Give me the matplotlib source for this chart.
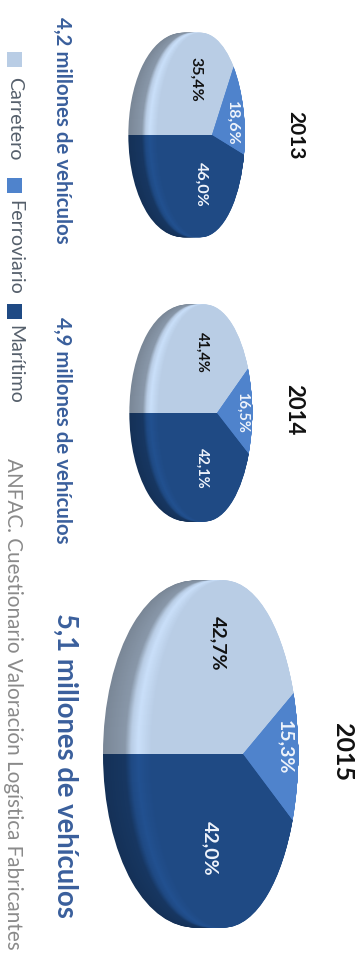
import matplotlib
matplotlib.use("Agg")
import matplotlib.pyplot as plt
import numpy as np

from matplotlib.patches import Rectangle
from matplotlib.transforms import Transform

plt.rcParams["font.family"] = ["Lato", "DejaVu Sans"]

years = ["2013", "2014", "2015"]
carretero = [35.4, 41.4, 42.7]
ferroviario = [18.6, 16.5, 15.3]
maritimo = [46.0, 42.1, 42.0]
totals = ["4,2 millones de vehículos", "4,9 millones de vehículos", "5,1 millones de vehículos"]
modes = ["Carretero", "Ferroviario", "Marítimo"]
source = "ANFAC. Cuestionario Valoración Logística Fabricantes"

colors = ["#b9cde5", "#4f83cc", "#1f4a84"]
label_colors = ["#111111", "#eef3fb", "#eef3fb"]
title_color = "#3a5f9c"

# disc geometry: centre x, centre y, half width, half height, perspective, rim depth
discs = [
	(212, 135, 41, 99, 0.25, 29),
	(217, 413, 44, 105, 0.25, 29),
	(243, 754, 69, 168, 0.25, 48),
]
value_pos = [
	[(196, 79), (232, 123), (201, 184)],
	[(202, 352), (242, 412), (202, 468)],
	[(218, 643), (285, 747), (210, 848)],
]
value_size = [11.5, 10.5, 14]
year_pos = [(295, 135), (294, 410), (342, 752)]
year_size = [15, 16, 18]
total_pos = [(62, 130), (62, 430), (65, 765)]
total_size = [14.7, 14.7, 19.8]


class TiltedDisc(Transform):
	# projects the unit circle of a pie onto a disc leaning away to the right,
	# d stretches the left side out to build the rim
	input_dims = 2
	output_dims = 2

	def __init__(self, cx, cy, a, b, k, d):
		super().__init__()
		self.cx, self.cy, self.a, self.b, self.k, self.d = cx, cy, a, b, k, d

	def transform_non_affine(self, values):
		values = np.asarray(values)
		u = values[:, 0]
		w = 1 + self.k * u
		return np.column_stack([
			self.cx + self.a * u / w - self.d * (1 - u) / 2,
			self.cy - self.b * values[:, 1] / w,
		])


def shaded(color, f):
	rgb = np.array(matplotlib.colors.to_rgb(color))
	return tuple(np.clip(rgb * f, 0, 1))


fig = plt.figure(figsize=(3.62, 9.56), dpi=100)
ax = fig.add_axes([0, 0, 1, 1])

for i, year in enumerate(years):
	values = [carretero[i], ferroviario[i], maritimo[i]]
	cx, cy, a, b, k, depth = discs[i]

	# rim first, stacked from the back edge up to the face
	for d in np.arange(depth, -1, -1):
		t = 1 - d / depth
		f = np.interp(t, [0, 0.45, 0.58, 0.72, 1], [0.66, 0.74, 1.0, 1.09, 1.0])
		wedges, _ = ax.pie(
			values,
			colors=[shaded(c, f) for c in colors],
			startangle=180,
			counterclock=False,
		)
		for w in wedges:
			w.set_transform(TiltedDisc(cx, cy, a, b, k, d) + ax.transData)

	for (x, y), v, c in zip(value_pos[i], values, label_colors):
		ax.text(x, y, f"{v:.1f}%".replace(".", ","), color=c, fontsize=value_size[i],
			fontweight="bold", rotation=-90, ha="center", va="center")

	ax.text(year_pos[i][0], year_pos[i][1], year, color="#111111", fontsize=year_size[i],
		fontweight="bold", rotation=-90, ha="center", va="center")
	ax.text(total_pos[i][0], total_pos[i][1], totals[i], color=title_color, fontsize=total_size[i],
		fontweight="bold", rotation=-90, ha="center", va="center")

# legend along the left edge
swatch_y = [52, 178, 304]
text_y = [77, 200, 325]
for y0, y1, name, c in zip(swatch_y, text_y, modes, colors):
	ax.add_patch(Rectangle((7, y0), 15, 15, facecolor=c, edgecolor="none"))
	ax.text(15, y1, name, color="#555f6b", fontsize=14.1, rotation=-90, ha="center", va="top")

ax.text(13, 458, source, color="#8a8a8a", fontsize=14.9, rotation=-90, ha="center", va="top")

ax.set_aspect("auto")
ax.set_xlim(0, 362)
ax.set_ylim(956, 0)
ax.set_axis_off()

fig.savefig("out.png", dpi=100)
